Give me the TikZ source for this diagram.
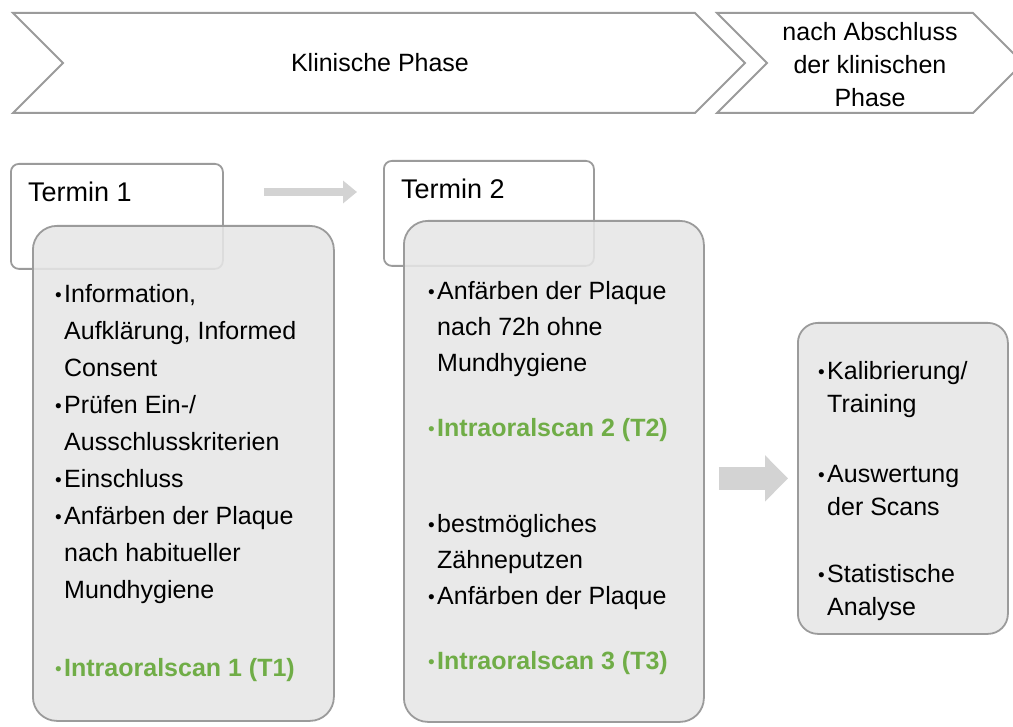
\documentclass[tikz,border=0pt]{standalone}
\usepackage{fontspec}
\setmainfont{Liberation Sans}
\usetikzlibrary{arrows.meta, positioning, calc}
\definecolor{boxline}{RGB}{155,155,155}
\definecolor{boxfill}{RGB}{230,230,230}
\definecolor{arrowgrey}{RGB}{211,211,211}
\definecolor{scangreen}{RGB}{112,173,71}
\newcommand{\bl}{\makebox[9pt][l]{\raisebox{1pt}{\fontsize{19}{19}\selectfont\textbullet}}}
\newcommand{\ind}{\hspace*{9pt}}
\newcommand{\scan}[1]{\textcolor{scangreen}{\bl\bfseries#1}}

\begin{document}
\begin{tikzpicture}[x=1pt, y=-1pt]
    % Define styles for boxes, texts and arrows
    \tikzset{
        phase/.style={draw=boxline, line width=2pt, line join=miter},
        phasetext/.style={font=\fontsize{25}{33}\selectfont, align=center, inner sep=0pt},
        termbox/.style={draw=boxline, line width=1.8pt, fill=white, rounded corners=8pt, anchor=north west, inner sep=0pt},
        greybox/.style={draw=boxline, line width=1.8pt, fill=boxfill, fill opacity=0.88, rounded corners=24pt, anchor=north west, inner sep=0pt},
        termtext/.style={font=\fontsize{27}{32}\selectfont, anchor=west, inner sep=0pt},
        listtext/.style={align=left, anchor=north west, inner sep=0pt},
        smallarrow/.style={draw=arrowgrey, line width=8pt, -{Triangle[width=22pt, length=14pt]}},
        bigarrow/.style={draw=arrowgrey, line width=23pt, -{Triangle[width=45pt, length=23pt]}}
    }
    \useasboundingbox (0,0) rectangle (1013,727);

    % ==========================================
    % PHASE CHEVRONS
    % ==========================================
    \draw[phase] (13,13) -- (695,13) -- (745,63) -- (695,113) -- (13,113) -- (63,63) -- cycle;
    \draw[phase] (717,13) -- (973,13) -- (1023,63) -- (973,113) -- (717,113) -- (767,63) -- cycle;
    \node[phasetext] (klin) at (380,63) {Klinische Phase};
    \node[phasetext] (nach) at (870,65) {nach Abschluss\\der klinischen\\Phase};

    % ==========================================
    % TERMIN 1
    % ==========================================
    \node[termbox, minimum width=212pt, minimum height=105pt] (t1) at (10,163) {};
    \node[termtext] (t1text) at ([xshift=18pt, yshift=-29pt]t1.north west) {Termin 1};
    \node[greybox, minimum width=301pt, minimum height=495pt] (g1) at (32,225) {};
    \node[listtext, font=\fontsize{25}{37}\selectfont] (list1) at (55,284)
        {\bl Information,\\ \ind Aufklärung, Informed\\ \ind Consent\\
         \bl Prüfen Ein-/\\ \ind Ausschlusskriterien\\ \bl Einschluss\\
         \bl Anfärben der Plaque\\ \ind nach habitueller\\ \ind Mundhygiene\\[41pt]
         \scan{Intraoralscan 1 (T1)}};

    % ==========================================
    % TERMIN 2
    % ==========================================
    \node[termbox, minimum width=210pt, minimum height=105pt] (t2) at (383,160) {};
    \node[termtext] (t2text) at ([xshift=18pt, yshift=-29pt]t2.north west) {Termin 2};
    \node[greybox, minimum width=300pt, minimum height=501pt] (g2) at (403,220) {};
    \node[listtext, font=\fontsize{25}{36}\selectfont] (list2) at (428,281)
        {\bl Anfärben der Plaque\\ \ind nach 72h ohne\\ \ind Mundhygiene\\[29pt]
         \scan{Intraoralscan 2 (T2)}\\[60pt]
         \bl bestmögliches\\ \ind Zähneputzen\\ \bl Anfärben der Plaque\\[29pt]
         \scan{Intraoralscan 3 (T3)}};

    % ==========================================
    % AUSWERTUNG
    % ==========================================
    \node[greybox, rounded corners=20pt, minimum width=210pt, minimum height=311pt] (g3) at (797,322) {};
    \node[listtext, font=\fontsize{25}{33}\selectfont] (list3) at (818,361)
        {\bl Kalibrierung/\\ \ind Training\\[37pt]
         \bl Auswertung\\ \ind der Scans\\[34pt]
         \bl Statistische\\ \ind Analyse};

    % arrows between the steps
    \draw[smallarrow, shorten <=40pt, shorten >=26pt] (t1text.center -| t1.east) -- (t1text.center -| t2.west);
    \draw[bigarrow, shorten <=14pt, shorten >=9pt] (g3.west -| g2.east) -- (g3.west);

\end{tikzpicture}
\end{document}
